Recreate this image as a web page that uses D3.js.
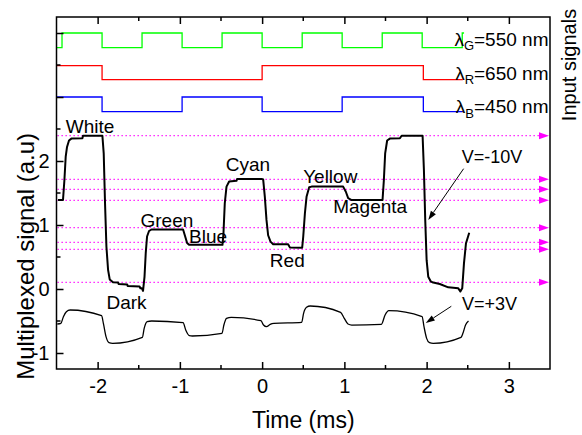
<!DOCTYPE html>
<html>
<head>
<meta charset="utf-8">
<script src="https://cdn.jsdelivr.net/npm/d3@7"></script>
<style>
  html, body { margin: 0; padding: 0; background: #fff; }
  svg { display: block; font-family: "Liberation Sans", Arial, sans-serif; }
</style>
</head>
<body>
<svg id="chart" width="582" height="435"></svg>
<script>
// Input signal switching times (ms) and on/off states per interval
const greenEdges = [-2.5, -2.433, -1.946, -1.46, -0.973, -0.487, 0, 0.487, 0.973, 1.46, 1.946, 2.433, 2.455];
const greenOn    = [0, 1, 0, 1, 0, 1, 0, 1, 0, 1, 0, 1];
const redEdges   = [-2.5, -1.946, 0, 1.96, 2.44];
const redOn      = [1, 0, 1, 0];
const blueEdges  = [-2.5, -1.946, -0.973, 0, 0.973, 1.96, 2.44];
const blueOn     = [1, 0, 1, 0, 1, 0];

// Displayed high / low levels of the three input traces (G, R, B)
const signalHigh = [4.0, 3.49, 3.0];
const signalLow  = [3.77, 3.27, 2.77];
const signalNames = ["G", "R", "B"];
const signalWavelengths = ["550", "650", "450"];

// Output levels of the eight colour states
const stateLevels = [2.395, 1.714, 1.558, 1.386, 0.958, 0.730, 0.620, 0.105];

// Multiplexed output at V = -10 V  [time (ms), signal (a.u)]
const traceMinus10V = [
  [-2.482, 1.39], [-2.421, 1.39], [-2.404, 1.70], [-2.388, 2.07], [-2.372, 2.22], [-2.348, 2.32],
  [-2.319, 2.35], [-2.185, 2.355], [-2.178, 2.395], [-1.942, 2.395],
  [-1.926, 2.12], [-1.91, 1.34], [-1.893, 0.66], [-1.873, 0.30], [-1.853, 0.15], [-1.813, 0.105],
  [-1.75, 0.10], [-1.745, 0.078], [-1.64, 0.07], [-1.635, 0.047], [-1.49, 0.04], [-1.48, 0.01],
  [-1.462, 0.01], [-1.448, -0.03],
  [-1.43, 0.19], [-1.415, 0.56], [-1.399, 0.82], [-1.375, 0.906], [-1.345, 0.93], [-0.961, 0.93],
  [-0.94, 0.84], [-0.912, 0.72], [-0.888, 0.69], [-0.482, 0.69],
  [-0.47, 0.87], [-0.454, 1.34], [-0.433, 1.60], [-0.401, 1.68], [-0.312, 1.69], [-0.304, 1.72], [-0.008, 1.72],
  [0.013, 1.71], [0.033, 1.44], [0.053, 1.08], [0.073, 0.84], [0.102, 0.74], [0.134, 0.70], [0.316, 0.70],
  [0.337, 0.65], [0.487, 0.645],
  [0.5, 0.82], [0.52, 1.18], [0.54, 1.44], [0.572, 1.59], [0.601, 1.60], [0.985, 1.60],
  [1.018, 1.52], [1.046, 1.42], [1.088, 1.39], [1.464, 1.39],
  [1.48, 1.70], [1.496, 2.12], [1.52, 2.32], [1.553, 2.35], [1.675, 2.355], [1.696, 2.395], [1.951, 2.395],
  [1.967, 1.86], [1.983, 1.08], [2.0, 0.45], [2.02, 0.19], [2.049, 0.12], [2.08, 0.10], [2.16, 0.078],
  [2.263, 0.026], [2.385, 0.01], [2.41, -0.04], [2.433, 0.01],
  [2.454, 0.40], [2.478, 0.71], [2.518, 0.88]
];

// Multiplexed output at V = +3 V
const tracePlus3V = [
  [-2.49, -0.547], [-2.447, -0.537], [-2.416, -0.432], [-2.38, -0.354], [-2.335, -0.328], [-1.952, -0.417],
  [-1.93, -0.537], [-1.898, -0.745], [-1.862, -0.839], [-1.817, -0.849], [-1.456, -0.755], [-1.434, -0.615],
  [-1.398, -0.51], [-1.343, -0.5], [-0.961, -0.526], [-0.929, -0.64], [-0.884, -0.729], [-0.848, -0.734],
  [-0.488, -0.693], [-0.465, -0.563], [-0.433, -0.458], [-0.375, -0.443], [-0.015, -0.495], [0.017, -0.563],
  [0.053, -0.589], [0.098, -0.552], [0.143, -0.537], [0.481, -0.521], [0.504, -0.38], [0.54, -0.286],
  [0.585, -0.266], [0.954, -0.365], [0.999, -0.458], [1.044, -0.547], [1.09, -0.563], [1.45, -0.552],
  [1.495, -0.406], [1.54, -0.339], [1.945, -0.432], [1.968, -0.589], [2.0, -0.771], [2.035, -0.839],
  [2.08, -0.849], [2.418, -0.755], [2.441, -0.693], [2.473, -0.563], [2.509, -0.5]
];

// Axis tick labels
const xTickLabels = [-2, -1, 0, 1, 2, 3];
const yTickLabels = [-1, 0, 1, 2];

// Colour-state annotations (text, time, signal at baseline)
const stateLabels = [
  { text: "White",   t: -2.388, v: 2.43 },
  { text: "Dark",    t: -1.893, v: -0.312 },
  { text: "Green",   t: -1.479, v: 0.973 },
  { text: "Blue",    t: -0.888, v: 0.723 },
  { text: "Cyan",    t: -0.442, v: 1.836 },
  { text: "Red",     t: 0.094,  v: 0.339 },
  { text: "Yellow",  t: 0.499,  v: 1.656 },
  { text: "Magenta", t: 0.864,  v: 1.19 }
];

// ---- layout ----
const svg = d3.select("#chart");
const x = d3.scaleLinear().domain([-2.5, 3.5]).range([56.5, 550]);
const y = d3.scaleLinear().domain([-1.25, 4.25]).range([369, 17]);
const FONT = 19;
const plainNum = d => String(d);   // hyphen-minus, as on the printed axes

// colour-level guide lines with arrowheads
const guides = svg.append("g");
stateLevels.forEach(v => {
  guides.append("line")
    .attr("x1", x(-2.5) + 1).attr("x2", x(3.5) - 9)
    .attr("y1", y(v)).attr("y2", y(v))
    .attr("stroke", "#ff00ff").attr("stroke-width", 1.3)
    .attr("stroke-dasharray", "1.3,2.7");
  const xe = x(3.5) - 1, yv = y(v);
  guides.append("path")
    .attr("d", `M${xe},${yv} L${xe - 10},${yv - 3.5} L${xe - 10},${yv + 3.5} Z`)
    .attr("fill", "#ff00ff");
});

// input square waves
function stepPoints(edges, on, hi, lo) {
  const pts = [];
  on.forEach((s, i) => {
    const lv = s ? hi : lo;
    pts.push([edges[i], lv], [edges[i + 1], lv]);
  });
  return pts;
}
const line = d3.line().x(d => x(d[0])).y(d => y(d[1]));
const inputs = [
  { edges: greenEdges, on: greenOn, color: "#00ff00" },
  { edges: redEdges,   on: redOn,   color: "#ff0000" },
  { edges: blueEdges,  on: blueOn,  color: "#0000ff" }
];
inputs.forEach((s, i) => {
  svg.append("path")
    .attr("d", line(stepPoints(s.edges, s.on, signalHigh[i], signalLow[i])))
    .attr("fill", "none").attr("stroke", s.color).attr("stroke-width", 1.3);
});

// output traces
svg.append("path")
  .attr("d", line(traceMinus10V))
  .attr("fill", "none").attr("stroke", "#000").attr("stroke-width", 2)
  .attr("stroke-linejoin", "round");
svg.append("path")
  .attr("d", d3.line().x(d => x(d[0])).y(d => y(d[1])).curve(d3.curveMonotoneX)(tracePlus3V))
  .attr("fill", "none").attr("stroke", "#000").attr("stroke-width", 1.3);

// axes
const ax = svg.append("g").attr("font-size", 20);
const axisB = d3.axisBottom(x).tickValues(xTickLabels).tickSize(-7).tickPadding(10).tickFormat(plainNum);
const axisT = d3.axisTop(x).tickValues(xTickLabels).tickSize(-7).tickFormat("");
const axisL = d3.axisLeft(y).tickValues(yTickLabels.concat([3, 4])).tickSize(-7).tickPadding(7)
  .tickFormat(d => yTickLabels.includes(d) ? plainNum(d) : "");

function styleAxis(g) {
  g.select(".domain").remove();
  g.selectAll(".tick line").attr("stroke", "#000").attr("stroke-width", 1.5);
  g.selectAll(".tick text").attr("fill", "#000").attr("font-size", 20)
    .attr("font-family", "Liberation Sans, Arial, sans-serif");
}
ax.append("g").attr("transform", `translate(0,${y(-1.25)})`).call(axisB).call(styleAxis);
ax.append("g").attr("transform", `translate(0,${y(4.25)})`).call(axisT).call(styleAxis);
ax.append("g").attr("transform", `translate(${x(-2.5)},0)`).call(axisL).call(styleAxis);

// minor ticks
const minorX = d3.range(-1.5, 3.5, 1);
const minorY = d3.range(-0.5, 4.0, 1);
minorX.forEach(t => {
  ax.append("line").attr("x1", x(t)).attr("x2", x(t)).attr("y1", y(-1.25)).attr("y2", y(-1.25) - 4)
    .attr("stroke", "#000").attr("stroke-width", 1.5);
  ax.append("line").attr("x1", x(t)).attr("x2", x(t)).attr("y1", y(4.25)).attr("y2", y(4.25) + 4)
    .attr("stroke", "#000").attr("stroke-width", 1.5);
});
minorY.forEach(v => {
  ax.append("line").attr("x1", x(-2.5)).attr("x2", x(-2.5) + 4).attr("y1", y(v)).attr("y2", y(v))
    .attr("stroke", "#000").attr("stroke-width", 1.5);
});

// frame
svg.append("rect")
  .attr("x", x(-2.5)).attr("y", y(4.25))
  .attr("width", x(3.5) - x(-2.5)).attr("height", y(-1.25) - y(4.25))
  .attr("fill", "none").attr("stroke", "#000").attr("stroke-width", 1.5);

// axis titles
svg.append("text")
  .attr("x", (x(-2.5) + x(3.5)) / 2).attr("y", 428)
  .attr("text-anchor", "middle").attr("font-size", 23).text("Time (ms)");
svg.append("text")
  .attr("transform", `translate(34,${y(0.51)}) rotate(-90)`)
  .attr("text-anchor", "middle").attr("font-size", 24).text("Multiplexed signal (a.u)");
svg.append("text")
  .attr("transform", `translate(576,${y(3.5)}) rotate(-90)`)
  .attr("text-anchor", "middle").attr("font-size", 20).text("Input signals");

// wavelength labels
const lambdaBase = [3.80, 3.266, 2.745];
signalNames.forEach((n, i) => {
  const t = svg.append("text")
    .attr("x", 548.5).attr("y", y(lambdaBase[i]))
    .attr("text-anchor", "end").attr("font-size", FONT);
  t.append("tspan").text("λ");
  t.append("tspan").attr("font-size", 13).attr("dy", 4.5).text(n);
  t.append("tspan").attr("dy", -4.5).text(`=${signalWavelengths[i]} nm`);
});

// colour-state labels
stateLabels.forEach(d => {
  svg.append("text").attr("x", x(d.t)).attr("y", y(d.v))
    .attr("font-size", FONT).text(d.text);
});

// voltage annotations with arrows
function arrow(x1, y1, x2, y2) {
  const a = Math.atan2(y2 - y1, x2 - x1), L = 9, W = 3;
  const bx = x2 - L * Math.cos(a), by = y2 - L * Math.sin(a);
  svg.append("line").attr("x1", x1).attr("y1", y1).attr("x2", bx).attr("y2", by)
    .attr("stroke", "#000").attr("stroke-width", 1);
  svg.append("path")
    .attr("d", `M${x2},${y2} L${bx + W * Math.sin(a)},${by - W * Math.cos(a)} L${bx - W * Math.sin(a)},${by + W * Math.cos(a)} Z`)
    .attr("fill", "#000");
}
svg.append("text").attr("x", x(2.426)).attr("y", y(1.964)).attr("font-size", 18).text("V=-10V");
arrow(x(2.45), y(1.88), x(2.02), y(1.08));
svg.append("text").attr("x", x(2.43)).attr("y", y(-0.33)).attr("font-size", 18).text("V=+3V");
arrow(x(2.3), y(-0.27), x(1.99), y(-0.53));
</script>
</body>
</html>
